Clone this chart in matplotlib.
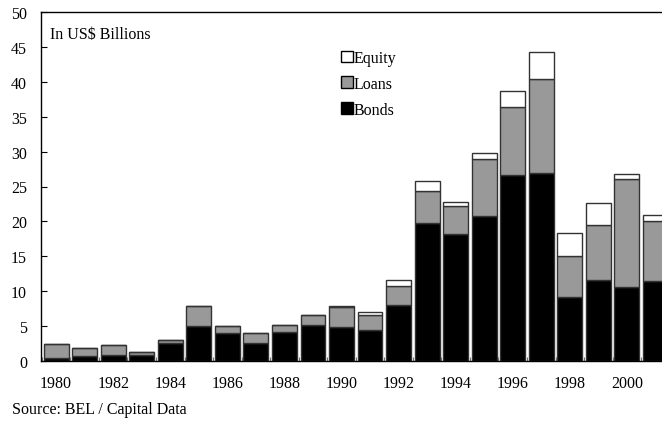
import matplotlib.pyplot as plt
import numpy as np
from matplotlib.patches import Patch

plt.rcParams['font.family'] = ['Liberation Serif', 'DejaVu Serif']

# Flows by year, in US$ billions
years = list(range(1980, 2002))
bonds = [0.4, 0.7, 0.8, 0.85, 2.65, 5.05, 4.05, 2.65, 4.2, 5.15, 4.9, 4.45,
         8.0, 19.8, 18.2, 20.8, 26.65, 27.0, 9.2, 11.65, 10.55, 11.4]
loans = [2.0, 1.1, 1.5, 0.4, 0.3, 2.8, 0.9, 1.4, 1.0, 1.5, 2.9, 2.2,
         2.8, 4.5, 4.0, 8.1, 9.75, 13.35, 5.9, 7.85, 15.5, 8.7]
equity = [0, 0, 0, 0, 0, 0, 0, 0, 0, 0, 0.1, 0.4,
          0.8, 1.5, 0.6, 0.95, 2.3, 3.85, 3.25, 3.2, 0.75, 0.85]

x = np.array(years)
bonds = np.array(bonds)
loans = np.array(loans)
equity = np.array(equity)

fs = 11.5

fig = plt.figure(figsize=(6.62, 4.27), dpi=100)
ax = fig.add_axes([41 / 662, 1 - 362 / 427, 1 - 41 / 662 + 0.02, 349 / 427])

w = 0.87
edge = '#333333'
ax.bar(x, bonds, w, color='black', edgecolor=edge, linewidth=1)
ax.bar(x, loans, w, bottom=bonds, color='#999999', edgecolor=edge, linewidth=1)
ax.bar(x, equity, w, bottom=bonds + loans, color='white', edgecolor=edge, linewidth=1)

ax.set_xlim(1979.47, 2001.23 + 0.02 * 662 / 28.55)
ax.set_ylim(0, 50)
ax.set_yticks(range(0, 51, 5))
ax.set_xticks(range(1980, 2001, 2))
ax.set_xticks(np.arange(1979.5, 2002, 1), minor=True)
ax.tick_params(axis='x', which='major', length=0, pad=10, labelsize=fs)
ax.tick_params(axis='x', which='minor', direction='in', length=3, color='#555555')
ax.tick_params(axis='y', direction='in', length=4, pad=10, labelsize=fs)
for s in ax.spines.values():
    s.set_linewidth(1)

fig.text(50 / 662, 1 - 35 / 427, 'In US$ Billions', fontsize=fs,
         va='center', ha='left')

handles = [Patch(facecolor='white', edgecolor='black', label='Equity'),
           Patch(facecolor='#999999', edgecolor='black', label='Loans'),
           Patch(facecolor='black', edgecolor='black', label='Bonds')]
fig.legend(handles=handles, loc='upper left', bbox_to_anchor=(333 / 662, 1 - 43 / 427),
           frameon=False, fontsize=fs, handlelength=0.75, handleheight=0.75,
           handletextpad=0.05, labelspacing=0.62, borderpad=0)

fig.text(12 / 662, 1 - 410 / 427, 'Source: BEL / Capital Data', fontsize=fs,
         va='center', ha='left')

plt.savefig('out.png', dpi=100)
